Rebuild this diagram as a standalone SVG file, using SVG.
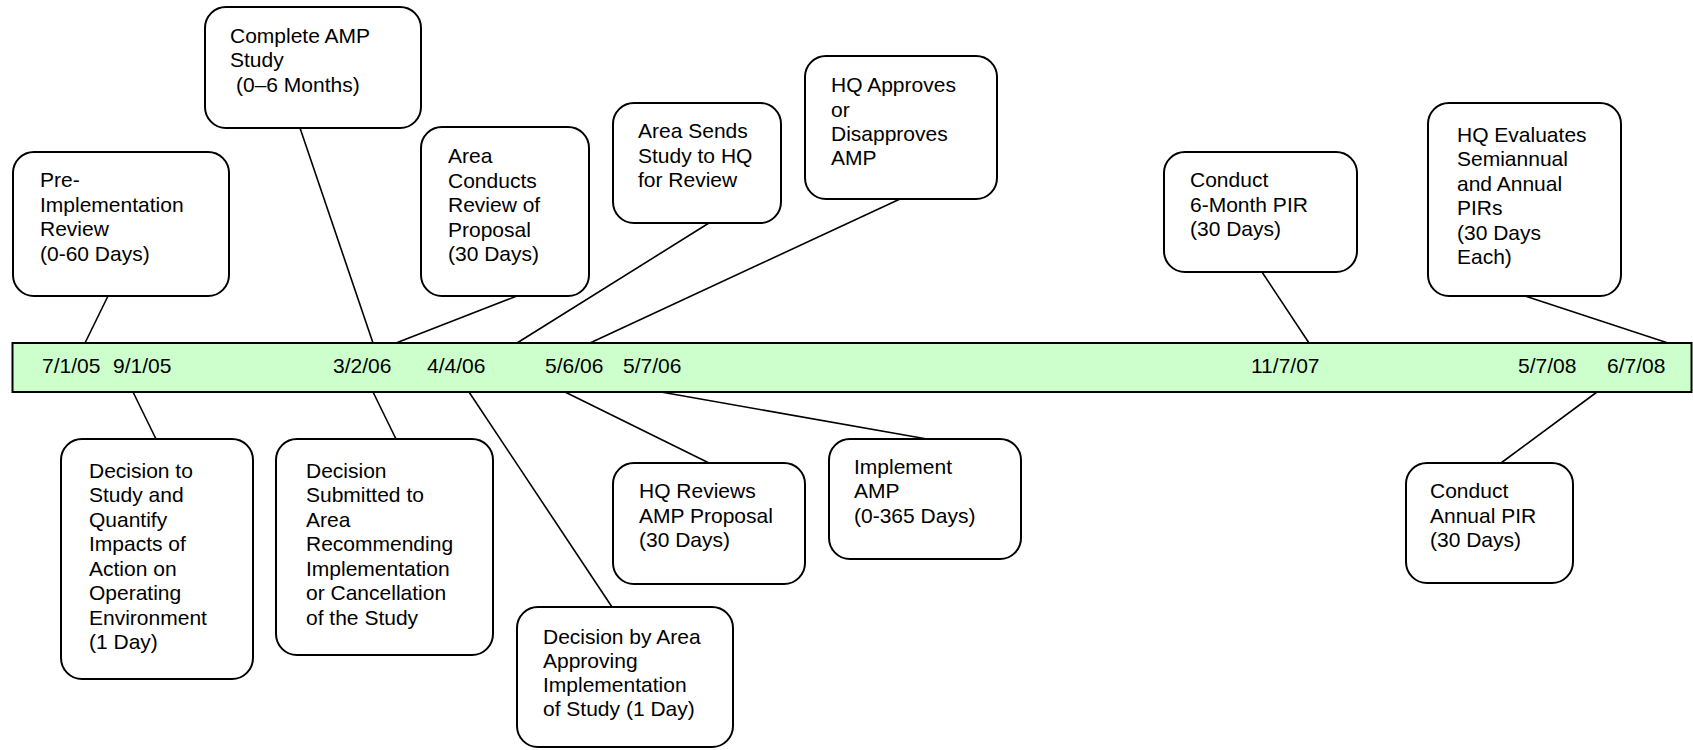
<svg xmlns="http://www.w3.org/2000/svg" width="1693" height="750" viewBox="0 0 1693 750">
<style>
.box{fill:#ffffff;stroke:#000000;stroke-width:2}
.bar{fill:#CCFFCC;stroke:#000000;stroke-width:2}
.ln{stroke:#000000;stroke-width:1.6;fill:none}
text{font-family:"Liberation Sans",Arial,sans-serif;font-size:21px;fill:#000000}
</style>
<rect width="1693" height="750" fill="#ffffff"/>
<g id="connectors">
<line class="ln" x1="108" y1="296" x2="85" y2="343"/>
<line class="ln" x1="133" y1="392" x2="156" y2="439"/>
<line class="ln" x1="300" y1="128" x2="373" y2="343"/>
<line class="ln" x1="517" y1="296" x2="396" y2="343"/>
<line class="ln" x1="373" y1="392" x2="396" y2="439"/>
<line class="ln" x1="469" y1="392" x2="612" y2="607"/>
<line class="ln" x1="709" y1="223" x2="517" y2="343"/>
<line class="ln" x1="900" y1="199" x2="590" y2="343"/>
<line class="ln" x1="565" y1="392" x2="709" y2="463"/>
<line class="ln" x1="661" y1="392" x2="927" y2="439"/>
<line class="ln" x1="1262" y1="272" x2="1309" y2="343"/>
<line class="ln" x1="1525" y1="296" x2="1668" y2="343"/>
<line class="ln" x1="1597" y1="392" x2="1501" y2="463"/>
</g>
<g id="timeline">
<rect class="bar" x="12.5" y="343" width="1679" height="49"/>
<text x="42" y="373">7/1/05</text>
<text x="113" y="373">9/1/05</text>
<text x="333" y="373">3/2/06</text>
<text x="427" y="373">4/4/06</text>
<text x="545" y="373">5/6/06</text>
<text x="623" y="373">5/7/06</text>
<text x="1251" y="373">11/7/07</text>
<text x="1518" y="373">5/7/08</text>
<text x="1607" y="373">6/7/08</text>
</g>
<g id="preimpl">
<rect class="box" x="13" y="152" width="216" height="144" rx="21"/>
<text x="40" y="187">Pre-</text>
<text x="40" y="212">Implementation</text>
<text x="40" y="236">Review</text>
<text x="40" y="261">(0-60 Days)</text>
</g>
<g id="complete">
<rect class="box" x="205" y="7" width="216" height="121" rx="21"/>
<text x="230" y="43">Complete AMP</text>
<text x="230" y="67">Study</text>
<text x="236" y="92">(0–6 Months)</text>
</g>
<g id="areaconducts">
<rect class="box" x="421" y="127" width="168" height="169" rx="21"/>
<text x="448" y="163">Area</text>
<text x="448" y="188">Conducts</text>
<text x="448" y="212">Review of</text>
<text x="448" y="237">Proposal</text>
<text x="448" y="261">(30 Days)</text>
</g>
<g id="areasends">
<rect class="box" x="613" y="103" width="168" height="120" rx="21"/>
<text x="638" y="138">Area Sends</text>
<text x="638" y="163">Study to HQ</text>
<text x="638" y="187">for Review</text>
</g>
<g id="hqapproves">
<rect class="box" x="805" y="56" width="192" height="143" rx="21"/>
<text x="831" y="92">HQ Approves</text>
<text x="831" y="117">or</text>
<text x="831" y="141">Disapproves</text>
<text x="831" y="165">AMP</text>
</g>
<g id="sixmonth">
<rect class="box" x="1164" y="152" width="193" height="120" rx="21"/>
<text x="1190" y="187">Conduct</text>
<text x="1190" y="212">6-Month PIR</text>
<text x="1190" y="236">(30 Days)</text>
</g>
<g id="hqeval">
<rect class="box" x="1428" y="103" width="193" height="193" rx="21"/>
<text x="1457" y="142">HQ Evaluates</text>
<text x="1457" y="166">Semiannual</text>
<text x="1457" y="191">and Annual</text>
<text x="1457" y="215">PIRs</text>
<text x="1457" y="240">(30 Days</text>
<text x="1457" y="264">Each)</text>
</g>
<g id="decstudy">
<rect class="box" x="61" y="439" width="192" height="240" rx="21"/>
<text x="89" y="478">Decision to</text>
<text x="89" y="502">Study and</text>
<text x="89" y="527">Quantify</text>
<text x="89" y="551">Impacts of</text>
<text x="89" y="576">Action on</text>
<text x="89" y="600">Operating</text>
<text x="89" y="625">Environment</text>
<text x="89" y="649">(1 Day)</text>
</g>
<g id="decsubmitted">
<rect class="box" x="276" y="439" width="217" height="216" rx="21"/>
<text x="306" y="478">Decision</text>
<text x="306" y="502">Submitted to</text>
<text x="306" y="527">Area</text>
<text x="306" y="551">Recommending</text>
<text x="306" y="576">Implementation</text>
<text x="306" y="600">or Cancellation</text>
<text x="306" y="625">of the Study</text>
</g>
<g id="decarea">
<rect class="box" x="517" y="607" width="216" height="140" rx="21"/>
<text x="543" y="644">Decision by Area</text>
<text x="543" y="668">Approving</text>
<text x="543" y="692">Implementation</text>
<text x="543" y="716">of Study (1 Day)</text>
</g>
<g id="hqreviews">
<rect class="box" x="613" y="463" width="192" height="121" rx="21"/>
<text x="639" y="498">HQ Reviews</text>
<text x="639" y="523">AMP Proposal</text>
<text x="639" y="547">(30 Days)</text>
</g>
<g id="implement">
<rect class="box" x="829" y="439" width="192" height="120" rx="21"/>
<text x="854" y="474">Implement</text>
<text x="854" y="498">AMP</text>
<text x="854" y="523">(0-365 Days)</text>
</g>
<g id="annual">
<rect class="box" x="1406" y="463" width="167" height="120" rx="21"/>
<text x="1430" y="498">Conduct</text>
<text x="1430" y="523">Annual PIR</text>
<text x="1430" y="547">(30 Days)</text>
</g>
</svg>
